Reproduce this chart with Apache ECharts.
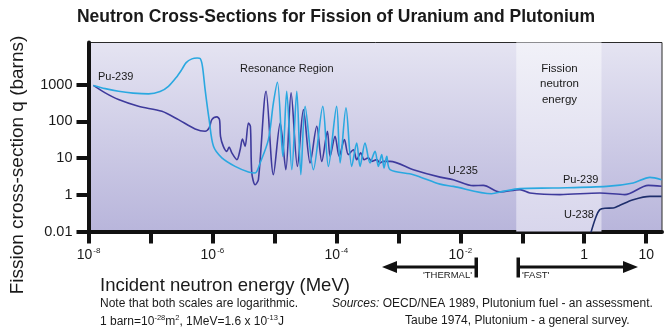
<!DOCTYPE html>
<html>
<head>
<meta charset="utf-8">
<script src="https://cdn.jsdelivr.net/npm/echarts@6/dist/echarts.min.js"></script>
<style>
  html, body { margin: 0; padding: 0; background: #ffffff; }
  #chart { width: 672px; height: 328px; }
</style>
</head>
<body>
<div id="chart"></div>
<script>
// Fission cross-sections (barns) against incident neutron energy (MeV)
const pu239Energy = [1.2e-8, 1.86e-8, 3.05e-8, 5.26e-8, 9.3e-8, 1.43e-7, 1.95e-7, 2.6e-7, 3.2e-7, 3.77e-7,
  4.66e-7, 5.67e-7, 6.33e-7, 6.9e-7, 7.62e-7, 8.85e-7, 1.04e-6, 1.42e-6, 2.32e-6, 3.81e-6,
  4.89e-6, 5.88e-6, 8.0e-6, 9.64e-6, 1.12e-5, 1.37e-5, 1.58e-5, 1.91e-5, 2.3e-5, 2.67e-5,
  3.13e-5, 4.26e-5, 6.04e-5, 7.43e-5, 1.01e-4, 1.15e-4, 1.43e-4, 1.77e-4, 2.13e-4, 2.41e-4,
  2.9e-4, 3.5e-4, 4.21e-4, 4.76e-4, 5.4e-4, 5.88e-4, 6.5e-4, 7.35e-4, 1.75e-3, 4.71e-3,
  7.71e-3, 0.032, 0.0494, 0.0918, 0.316, 2.3, 6.17, 11.5, 17.7];
const pu239Sigma = [950, 778, 656, 586, 558, 644, 899, 1552, 2563, 3974,
  5013, 5273, 5106, 3154, 731, 111, 20.8, 10.1, 5.94, 4.18,
  3.93, 7.35, 31.7, 317, 1155, 11.1, 656, 4.83, 656, 3.53,
  256, 4.83, 256, 5.94, 256, 7.35, 232, 5.94, 25.8, 5.94,
  25.8, 7.35, 15.2, 5.94, 12.4, 5.37, 11.1, 4.83, 3.53, 1.95,
  1.69, 1.07, 1.24, 1.47, 1.53, 1.69, 2.10, 2.98, 2.58];

const u235Energy = [1.2e-8, 1.86e-8, 3.05e-8, 6.4e-8, 1.53e-7, 2.83e-7, 5.26e-7, 7.62e-7, 8.85e-7, 9.78e-7,
  1.18e-6, 1.3e-6, 1.35e-6, 1.5e-6, 1.71e-6, 1.86e-6, 2.06e-6, 2.48e-6, 2.8e-6, 3.05e-6,
  3.37e-6, 3.81e-6, 4.1e-6, 4.32e-6, 4.89e-6, 5.52e-6, 7.34e-6, 9.64e-6, 1.24e-5, 1.53e-5,
  1.86e-5, 2.35e-5, 2.94e-5, 3.77e-5, 4.83e-5, 5.82e-5, 7.17e-5, 7.92e-5, 9.53e-5, 1.11e-4,
  1.35e-4, 1.56e-4, 1.88e-4, 2.13e-4, 2.48e-4, 2.8e-4, 3.28e-4, 3.72e-4, 4.49e-4, 5.07e-4,
  5.73e-4, 7.35e-4, 1.75e-3, 4.71e-3, 7.71e-3, 0.0162, 0.0235, 0.0437, 0.0918, 0.133,
  0.405, 1.79, 4.53, 10.8, 17.7];
const u235Sigma = [950, 594, 390, 256, 187, 111, 62.1, 53.5, 66.1, 111,
  132, 111, 39, 20.8, 15.2, 20.0, 13.8, 9.04, 16.9, 33.1,
  20.8, 90.3, 73.1, 3.93, 1.88, 2.58, 656, 3.53, 90.3, 4.83,
  594, 5.94, 208, 7.35, 73.1, 8.13, 53.5, 11.1, 39, 11.1,
  31.7, 12.4, 16.9, 9.04, 13.8, 9.04, 10.1, 8.13, 9.04, 7.35,
  8.13, 8.13, 4.83, 3.02, 2.58, 1.77, 1.80, 1.19, 1.38, 1.12,
  1.01, 1.12, 1.01, 1.80, 1.71];

const u238Energy = [1.24, 1.53, 1.79, 2.16, 2.94, 3.77, 6.17, 11.5, 17.7];
const u238Sigma = [0.077, 0.238, 0.393, 0.431, 0.436, 0.521, 0.734, 0.904, 0.904];

// Fission-neutron energy band (MeV)
const fissionBand = [0.08, 1.9];

// Axis ticks and labels
const xTickValues = [1e-8, 1e-7, 1e-6, 1e-5, 1e-4, 1e-3, 1e-2, 1e-1, 1, 10];
const xLabelValues = [1e-8, 1e-6, 1e-4, 1e-2, 1, 10];
const yTickValues = [0.1, 1, 10, 100, 1000];
const yTickLabels = ['0.01', '1', '10', '100', '1000'];

const FONT = '"Liberation Sans", Arial, Helvetica, sans-serif';
const INK = '#1a1a1a';

function pairs(xs, ys) {
  return xs.map((x, i) => [x, ys[i]]);
}

function xLabel(v) {
  const e = Math.round(Math.log10(v));
  if (e === 0) return '{b|1}';
  if (e === 1) return '{b|10}';
  return '{b|10}{s|' + e + '}';
}

function yLabel(v) {
  for (let i = 0; i < yTickValues.length; i++) {
    if (Math.abs(v - yTickValues[i]) / yTickValues[i] < 1e-6) return yTickLabels[i];
  }
  return '';
}

const chart = echarts.init(document.getElementById('chart'), null, { renderer: 'canvas' });

// text drawn above the plot contents
const txt = (text, x, y, size, extra) => ({
  type: 'text', x: x, y: y, z: 50, silent: true,
  style: Object.assign({
    text: text, fill: INK, fontSize: size, fontFamily: FONT,
    align: 'left', verticalAlign: 'middle'
  }, extra || {})
});

const bandFill = new echarts.graphic.LinearGradient(0, 0, 0, 1, [
  { offset: 0, color: '#f1f1f8' },
  { offset: 1, color: '#d8d6ec' }
]);

const option = {
  animation: false,
  backgroundColor: '#ffffff',
  title: {
    text: 'Neutron Cross-Sections for Fission of Uranium and Plutonium',
    left: 'center',
    top: 3,
    textStyle: { fontFamily: FONT, fontSize: 17.5, fontWeight: 'bold', color: INK }
  },
  grid: {
    left: 88.5, top: 42.5, width: 573.5, height: 189,
    show: true,
    borderColor: '#2a2a2a', borderWidth: 1,
    backgroundColor: {
      type: 'linear', x: 0, y: 0, x2: 0, y2: 1,
      colorStops: [
        { offset: 0, color: '#e5e4f2' },
        { offset: 1, color: '#b8b5db' }
      ]
    }
  },
  xAxis: {
    type: 'log',
    min: 1e-8, max: 18,
    axisLine: { show: true, lineStyle: { color: '#111', width: 4 } },
    axisTick: { show: true, length: 12, lineStyle: { color: '#111', width: 4 }, customValues: xTickValues },
    splitLine: { show: false },
    axisLabel: {
      customValues: xLabelValues,
      margin: 15,
      formatter: xLabel,
      rich: {
        b: { fontFamily: FONT, fontSize: 14, color: INK, lineHeight: 16, verticalAlign: 'bottom' },
        s: { fontFamily: FONT, fontSize: 8, color: INK, lineHeight: 16, verticalAlign: 'top', padding: [0, 0, 0, 1] }
      }
    }
  },
  yAxis: {
    type: 'log',
    min: 0.1, max: 14000,
    axisLine: { show: true, lineStyle: { color: '#111', width: 4 } },
    axisTick: { show: true, length: 12, lineStyle: { color: '#111', width: 4 }, customValues: yTickValues },
    splitLine: { show: false },
    axisLabel: {
      customValues: yTickValues,
      margin: 16,
      formatter: yLabel,
      fontFamily: FONT, fontSize: 14.5, color: INK
    }
  },
  series: [
    {
      // lighter band behind the curves
      name: 'Fission neutron energy', type: 'custom', z: 1, silent: true,
      data: [[fissionBand[0], fissionBand[1], 1]],
      encode: { x: [0, 1], y: 2 },
      renderItem: function (params, api) {
        const cs = params.coordSys;
        const x0 = api.coord([api.value(0), 1])[0];
        const x1 = api.coord([api.value(1), 1])[0];
        return {
          type: 'rect',
          shape: { x: x0, y: cs.y, width: x1 - x0, height: cs.height },
          style: { fill: bandFill }
        };
      }
    },
    {
      name: 'U-235', type: 'line', z: 3,
      data: pairs(u235Energy, u235Sigma),
      smooth: 0.3, showSymbol: false,
      lineStyle: { color: '#3e3a9c', width: 1.6 }
    },
    {
      name: 'Pu-239', type: 'line', z: 4,
      data: pairs(pu239Energy, pu239Sigma),
      smooth: 0.3, showSymbol: false,
      lineStyle: { color: '#2aa8e0', width: 1.6 }
    },
    {
      name: 'U-238', type: 'line', z: 3,
      data: pairs(u238Energy, u238Sigma),
      smooth: 0.3, showSymbol: false, clip: true,
      lineStyle: { color: '#1e2e6c', width: 1.6 }
    }
  ],
  graphic: [
    // axis titles
    Object.assign(txt('Fission cross-section q (barns)', 18, 165, 19, { align: 'center' }), { rotation: Math.PI / 2 }),
    txt('Incident neutron energy (MeV)', 100, 286, 18.5),
    // curve annotations
    txt('Pu-239', 98, 76.5, 11),
    txt('Resonance Region', 240, 68.5, 11),
    txt('U-235', 448, 170.5, 11),
    txt('Pu-239', 563, 179.5, 11),
    txt('U-238', 564, 214.5, 11),
    txt('Fission\nneutron\nenergy', 559.5, 84, 11.5, { align: 'center', lineHeight: 15.5 }),
    // thermal / fast arrows
    { type: 'line', silent: true, shape: { x1: 392, y1: 267, x2: 476, y2: 267 }, style: { stroke: '#111', lineWidth: 3 } },
    { type: 'polygon', silent: true, shape: { points: [[382, 267], [397, 261], [397, 273]] }, style: { fill: '#111' } },
    { type: 'rect', silent: true, shape: { x: 474.5, y: 257.5, width: 3.5, height: 20 }, style: { fill: '#111' } },
    txt("'THERMAL'", 472, 275.5, 9.5, { align: 'right' }),
    { type: 'rect', silent: true, shape: { x: 516.5, y: 257.5, width: 3.5, height: 20 }, style: { fill: '#111' } },
    { type: 'line', silent: true, shape: { x1: 518, y1: 267, x2: 624, y2: 267 }, style: { stroke: '#111', lineWidth: 3 } },
    { type: 'polygon', silent: true, shape: { points: [[638, 267], [623, 261], [623, 273]] }, style: { fill: '#111' } },
    txt("'FAST'", 522, 275.5, 9.5),
    // notes
    txt('Note that both scales are logarithmic.', 100, 304, 12),
    txt('{t|1 barn=10}{s|-28}{t|m}{s|2}{t|, 1MeV=1.6 x 10}{s|-13}{t|J}', 100, 321, 12, {
      rich: {
        t: { fontSize: 12, fontFamily: FONT, fill: INK, lineHeight: 14, verticalAlign: 'bottom' },
        s: { fontSize: 7.5, fontFamily: FONT, fill: INK, lineHeight: 14, verticalAlign: 'top' }
      }
    }),
    txt('{i|Sources:} {t|OECD/NEA 1989, Plutonium fuel - an assessment.}', 332, 304, 12, {
      rich: {
        i: { fontSize: 12, fontFamily: FONT, fontStyle: 'italic', fill: INK },
        t: { fontSize: 12, fontFamily: FONT, fill: INK }
      }
    }),
    txt('Taube 1974, Plutonium - a general survey.', 405, 321, 12)
  ]
};

chart.setOption(option);
</script>
</body>
</html>
